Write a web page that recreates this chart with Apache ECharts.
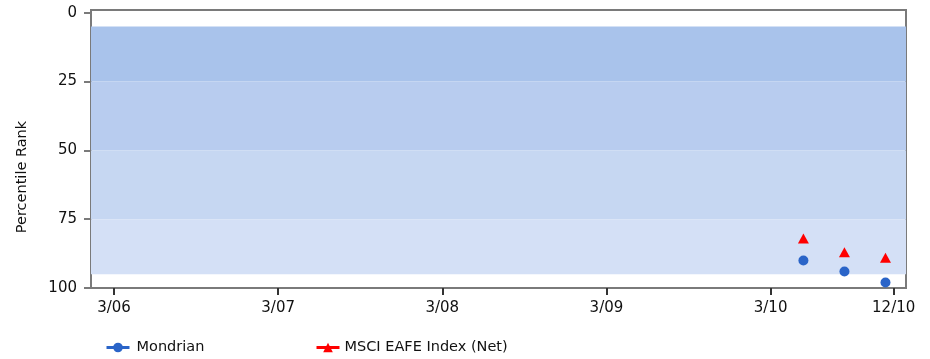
<!DOCTYPE html>
<html>
<head>
<meta charset="utf-8">
<script src="https://cdn.jsdelivr.net/npm/echarts@6/dist/echarts.min.js"></script>
<style>html,body{margin:0;padding:0;background:#fff}#c{width:930px;height:359px}</style>
</head>
<body>
<div id="c"></div>
<script>
// quarter index: 0 = 3/06, 4 = 3/07, ..., 16 = 3/10, 19 = 12/10
const tickPositions = [0, 4, 8, 12, 16, 19];
const tickLabels = ['3/06', '3/07', '3/08', '3/09', '3/10', '12/10'];
const yTicks = [0, 25, 50, 75, 100];
const bandEdges = [5, 25, 50, 75, 95];
const bandColors = ['#a9c3eb', '#b8ccef', '#c6d7f2', '#d4e0f6'];
const seriesNames = ['Mondrian', 'MSCI EAFE Index (Net)'];
const pointX = [16.8, 17.8, 18.8];
const mondrianRank = [90, 94, 98];
const msciRank = [82, 87, 89];

const FONT = '"DejaVu Sans", sans-serif';
const chart = echarts.init(document.getElementById('c'));
const bands = [];
for (let i = 0; i < bandColors.length; i++) {
  bands.push([{ yAxis: bandEdges[i], itemStyle: { color: bandColors[i] } }, { yAxis: bandEdges[i + 1] }]);
}
const labelMap = {};
tickPositions.forEach((p, i) => labelMap[p] = tickLabels[i]);

chart.setOption({
  animation: false,
  grid: { left: 91, right: 24, top: 10, bottom: 71, show: true, borderColor: '#7a7a7a', borderWidth: 2, backgroundColor: 'transparent' },
  xAxis: {
    type: 'value', min: -0.56, max: 19.3,
    splitLine: { show: false },
    axisLine: { onZero: false, lineStyle: { color: '#7a7a7a', width: 2 } },
    axisTick: { customValues: tickPositions, length: 7, lineStyle: { color: '#333', width: 2 } },
    axisLabel: { customValues: tickPositions, formatter: v => labelMap[v] || '', color: '#111', fontSize: 15, fontFamily: FONT, margin: 13 }
  },
  yAxis: {
    type: 'value', inverse: true, min: -1, max: 100,
    splitLine: { show: false },
    axisLine: { show: true, onZero: false, lineStyle: { color: '#7a7a7a', width: 2 } },
    axisTick: { show: true, customValues: yTicks, length: 7, lineStyle: { color: '#7a7a7a', width: 2 } },
    axisLabel: { customValues: yTicks, color: '#111', fontSize: 15, fontFamily: FONT, margin: 14 }
  },
  legend: [
    { data: [seriesNames[0]], left: 100, top: 335, itemWidth: 23, itemHeight: 12, itemGap: 0,
      textStyle: { fontSize: 14.5, fontFamily: FONT, color: '#111', padding: [0, 0, 0, 2] }, lineStyle: { opacity: 1, width: 3 } },
    { data: [seriesNames[1]], left: 310, top: 335, itemWidth: 23, itemHeight: 12, itemGap: 0,
      textStyle: { fontSize: 14.5, fontFamily: FONT, color: '#111', padding: [0, 0, 0, 0] }, lineStyle: { opacity: 1, width: 3 } }
  ],
  graphic: [{
    type: 'text', x: 22, y: 177, rotation: Math.PI / 2,
    style: { text: 'Percentile Rank', fill: '#111', font: '14.5px ' + FONT, textAlign: 'center', textVerticalAlign: 'middle' }
  }],
  series: [
    {
      name: seriesNames[0], type: 'line', symbol: 'circle', symbolSize: 10,
      data: pointX.map((x, i) => [x, mondrianRank[i]]),
      itemStyle: { color: '#2a64c8' }, lineStyle: { opacity: 0, color: '#2a64c8' },
      markArea: { silent: true, data: bands }, z: 3
    },
    {
      name: seriesNames[1], type: 'line', symbol: 'triangle', symbolSize: [11, 10],
      data: pointX.map((x, i) => [x, msciRank[i]]),
      itemStyle: { color: '#ff0000' }, lineStyle: { opacity: 0, color: '#ff0000' }, z: 3
    }
  ]
});
</script>
</body>
</html>
